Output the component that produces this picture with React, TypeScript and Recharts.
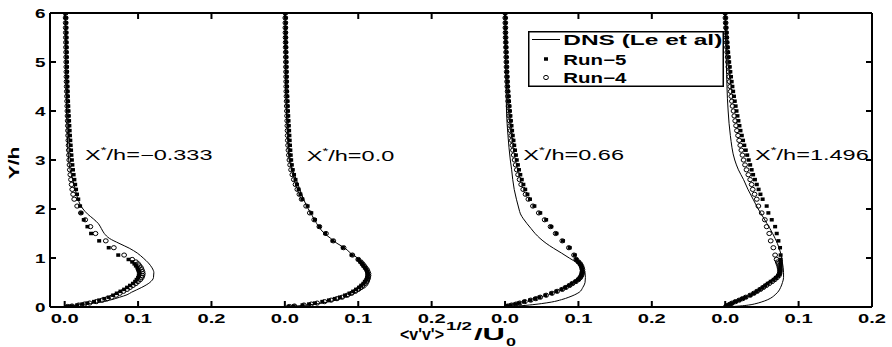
import React from 'react';
import { ScatterChart, Scatter, XAxis, YAxis, Legend } from 'recharts';

const FONT = '"Liberation Sans", Arial, Helvetica, sans-serif';

const panelOffsets = [0, 0.3, 0.6, 0.9];
const panelNames = ['\u22120.333', '0.0', '0.66', '1.496'];
const xTicks = [0, 0.1, 0.2, 0.3, 0.4, 0.5, 0.6, 0.7, 0.8, 0.9, 1.0, 1.1];
const xTickLabels = ['0.0', '0.1', '0.2'];
const yTicks = [0, 1, 2, 3, 4, 5, 6];
const yTickLabels = ['0', '1', '2', '3', '4', '5', '6'];

// y-positions of the simulation points (shared by Run-5 and Run-4)
const yRuns = [
  6.0, 5.9, 5.8, 5.7, 5.6, 5.5, 5.4, 5.3, 5.2, 5.1,
  5.0, 4.9, 4.8, 4.7, 4.6, 4.5, 4.4, 4.3, 4.2, 4.1,
  4.0, 3.9, 3.8, 3.7, 3.6, 3.5, 3.4, 3.3, 3.2, 3.1,
  3.0, 2.9, 2.8, 2.7, 2.6, 2.5, 2.4, 2.3, 2.2,
  2.06, 1.92, 1.78, 1.64, 1.5, 1.35, 1.21, 1.06,
  0.97, 0.92, 0.88, 0.84, 0.8, 0.76, 0.72, 0.68, 0.64, 0.6,
  0.56, 0.52, 0.48, 0.44, 0.4, 0.36, 0.32, 0.28, 0.24, 0.2,
  0.17, 0.14, 0.11, 0.08, 0.06, 0.04, 0.02, 0.01,
];

// y-positions of the DNS curve
const yDns = [
  6, 5, 4, 3.5, 3.0, 2.8, 2.6, 2.4, 2.2, 2.0, 1.9, 1.8, 1.7, 1.6, 1.5, 1.4, 1.3, 1.2,
  1.1, 1.0, 0.9, 0.8, 0.7, 0.6, 0.5, 0.4, 0.3, 0.25, 0.2, 0.15, 0.1, 0.07, 0.04, 0.02, 0,
];

const dnsP1 = [
  0.001, 0.0015, 0.0025, 0.0035, 0.0055, 0.0075, 0.011, 0.0145, 0.018, 0.025, 0.031, 0.039,
  0.046, 0.05, 0.054, 0.061, 0.074, 0.088, 0.099, 0.107, 0.114, 0.119, 0.1215, 0.121, 0.116,
  0.105, 0.091, 0.085, 0.075, 0.064, 0.05, 0.035, 0.016, 0.007, 0,
];
const dnsP2 = [
  0.0005, 0.001, 0.002, 0.0035, 0.006, 0.0105, 0.0155, 0.0205, 0.0255, 0.032, 0.036, 0.0395,
  0.0435, 0.048, 0.054, 0.0625, 0.071, 0.082, 0.0895, 0.099, 0.1055, 0.111, 0.115, 0.116, 0.1145,
  0.1095, 0.097, 0.091, 0.083, 0.072, 0.058, 0.046, 0.03, 0.016, 0,
];
const dnsP3 = [
  0, 0.001, 0.002, 0.004, 0.0072, 0.009, 0.0105, 0.0125, 0.0155, 0.019, 0.021, 0.025,
  0.03, 0.0355, 0.041, 0.0477, 0.056, 0.066, 0.077, 0.0875, 0.098, 0.1055, 0.109, 0.1095, 0.109,
  0.106, 0.101, 0.095, 0.087, 0.077, 0.063, 0.05, 0.033, 0.018, 0,
];
const dnsP4 = [
  0, 0.0015, 0.004, 0.007, 0.013, 0.018, 0.025, 0.031, 0.038, 0.045, 0.049, 0.053,
  0.057, 0.061, 0.0646, 0.068, 0.071, 0.0735, 0.0755, 0.077, 0.078, 0.079, 0.0795, 0.0795, 0.078,
  0.0755, 0.0715, 0.068, 0.064, 0.058, 0.049, 0.042, 0.032, 0.02, 0,
];

const run5P1 = [
  0.0018, 0.0019, 0.002, 0.0021, 0.0022, 0.0023, 0.0024, 0.0025, 0.0026, 0.0027,
  0.0028, 0.003, 0.0032, 0.0034, 0.0036, 0.0038, 0.004, 0.0043, 0.0046, 0.0049,
  0.0052, 0.0056, 0.006, 0.0064, 0.0068, 0.0072, 0.0077, 0.0082, 0.0087, 0.0092,
  0.0098, 0.0105, 0.0113, 0.0122, 0.0132, 0.0143, 0.0155, 0.0168, 0.0185,
  0.021, 0.0225, 0.026, 0.031, 0.036, 0.047, 0.06, 0.073,
  0.087, 0.092, 0.095, 0.097, 0.099, 0.1, 0.101, 0.1015, 0.101, 0.1,
  0.098, 0.096, 0.093, 0.089, 0.085, 0.081, 0.076, 0.071, 0.066, 0.06,
  0.054, 0.047, 0.04, 0.031, 0.024, 0.017, 0.009, 0.004,
];
const run4P1 = [
  0.0012, 0.0013, 0.0013, 0.0014, 0.0015, 0.0016, 0.0017, 0.0018, 0.0019, 0.002,
  0.0021, 0.0022, 0.0023, 0.0024, 0.0025, 0.0027, 0.0029, 0.0031, 0.0033, 0.0035,
  0.0037, 0.0039, 0.0041, 0.0043, 0.0045, 0.0047, 0.005, 0.0053, 0.0056, 0.0059,
  0.0062, 0.0066, 0.007, 0.0077, 0.0086, 0.0094, 0.0103, 0.0115, 0.013,
  0.017, 0.022, 0.028, 0.035, 0.042, 0.056, 0.067, 0.081,
  0.092, 0.097, 0.1, 0.102, 0.104, 0.105, 0.106, 0.1065, 0.106, 0.105,
  0.103, 0.1, 0.097, 0.093, 0.089, 0.085, 0.08, 0.075, 0.07, 0.064,
  0.058, 0.051, 0.043, 0.034, 0.027, 0.019, 0.01, 0.004,
];
const run5P2 = [
  0.001, 0.001, 0.0011, 0.0012, 0.0013, 0.0014, 0.0015, 0.0016, 0.0017, 0.0018,
  0.0019, 0.002, 0.0022, 0.0024, 0.0026, 0.0028, 0.003, 0.0033, 0.0036, 0.0039,
  0.0042, 0.0046, 0.005, 0.0054, 0.0058, 0.0062, 0.0066, 0.007, 0.0075, 0.008,
  0.0086, 0.0095, 0.0108, 0.0125, 0.0145, 0.0165, 0.0188, 0.0212, 0.0238,
  0.031, 0.036, 0.041, 0.047, 0.055, 0.065, 0.079, 0.091,
  0.1, 0.103, 0.105, 0.107, 0.109, 0.111, 0.112, 0.1125, 0.1125, 0.112,
  0.111, 0.109, 0.107, 0.104, 0.101, 0.097, 0.093, 0.088, 0.082, 0.075,
  0.068, 0.06, 0.051, 0.041, 0.033, 0.024, 0.012, 0.005,
];
const run4P2 = [
  0.0006, 0.0006, 0.0007, 0.0007, 0.0008, 0.0009, 0.001, 0.0011, 0.0012, 0.0013,
  0.0014, 0.0015, 0.0016, 0.0017, 0.0018, 0.0019, 0.002, 0.0022, 0.0024, 0.0026,
  0.0028, 0.003, 0.0032, 0.0034, 0.0036, 0.0038, 0.004, 0.0044, 0.0049, 0.0055,
  0.0062, 0.0072, 0.0085, 0.0102, 0.0122, 0.0145, 0.017, 0.0198, 0.0228,
  0.029, 0.034, 0.04, 0.047, 0.056, 0.066, 0.08, 0.092,
  0.1, 0.1035, 0.106, 0.108, 0.11, 0.112, 0.113, 0.114, 0.114, 0.1135,
  0.1125, 0.111, 0.109, 0.106, 0.103, 0.1, 0.096, 0.091, 0.085, 0.078,
  0.071, 0.063, 0.054, 0.044, 0.036, 0.026, 0.013, 0.006,
];
const run5P3 = [
  0.0003, 0.0004, 0.0005, 0.0006, 0.0008, 0.001, 0.0012, 0.0014, 0.0016, 0.0018,
  0.002, 0.0023, 0.0026, 0.003, 0.0034, 0.0038, 0.0043, 0.0048, 0.0054, 0.006,
  0.0066, 0.0073, 0.008, 0.0088, 0.0096, 0.0105, 0.0115, 0.0125, 0.0136, 0.0148,
  0.016, 0.0175, 0.019, 0.0208, 0.0228, 0.025, 0.0275, 0.0305, 0.034,
  0.04, 0.048, 0.056, 0.063, 0.07, 0.079, 0.088, 0.095,
  0.097, 0.1, 0.102, 0.1035, 0.1045, 0.105, 0.105, 0.1045, 0.1035, 0.102,
  0.0995, 0.096, 0.091, 0.087, 0.082, 0.077, 0.07, 0.063, 0.055, 0.047,
  0.041, 0.034, 0.026, 0.019, 0.014, 0.008, 0.004, 0.002,
];
const run4P3 = [
  0.0002, 0.0003, 0.0004, 0.0005, 0.0006, 0.0008, 0.001, 0.0012, 0.0014, 0.0016,
  0.0018, 0.002, 0.0022, 0.0025, 0.0028, 0.0031, 0.0035, 0.0039, 0.0043, 0.0048,
  0.0053, 0.0058, 0.0064, 0.007, 0.0077, 0.0084, 0.0092, 0.01, 0.0108, 0.0118,
  0.013, 0.0145, 0.016, 0.0178, 0.0198, 0.022, 0.0248, 0.028, 0.0318,
  0.038, 0.046, 0.054, 0.062, 0.069, 0.078, 0.087, 0.094,
  0.097, 0.1, 0.1025, 0.104, 0.105, 0.1055, 0.1055, 0.105, 0.104, 0.1025,
  0.1, 0.0965, 0.092, 0.088, 0.083, 0.078, 0.071, 0.064, 0.056, 0.048,
  0.042, 0.035, 0.027, 0.02, 0.015, 0.009, 0.004, 0.002,
];
const run5P4 = [
  0.0, 0.0004, 0.0008, 0.0012, 0.0017, 0.0022, 0.0028, 0.0034, 0.004, 0.0047,
  0.0054, 0.0062, 0.007, 0.0079, 0.0088, 0.0098, 0.0108, 0.0119, 0.013, 0.0142,
  0.0154, 0.0167, 0.018, 0.0194, 0.0208, 0.0226, 0.0243, 0.026, 0.028, 0.03,
  0.032, 0.034, 0.036, 0.038, 0.0405, 0.043, 0.0455, 0.048, 0.051,
  0.0565, 0.0588, 0.0634, 0.068, 0.0702, 0.0725, 0.0747, 0.0755,
  0.0755, 0.0755, 0.0755, 0.0755, 0.0752, 0.075, 0.0745, 0.074, 0.072, 0.069,
  0.066, 0.062, 0.058, 0.0545, 0.051, 0.047, 0.043, 0.039, 0.034, 0.028,
  0.024, 0.019, 0.014, 0.0095, 0.007, 0.0045, 0.002, 0.001,
];
const run4P4 = [
  0.0, 0.0003, 0.0006, 0.0009, 0.0012, 0.0016, 0.002, 0.0024, 0.0028, 0.0033,
  0.0038, 0.0043, 0.0049, 0.0055, 0.0061, 0.0068, 0.0075, 0.0083, 0.0091, 0.01,
  0.0113, 0.0124, 0.0136, 0.0148, 0.016, 0.0175, 0.019, 0.0205, 0.022, 0.0235,
  0.025, 0.027, 0.029, 0.0315, 0.034, 0.036, 0.0375, 0.04, 0.043,
  0.0452, 0.0497, 0.054, 0.0565, 0.06, 0.062, 0.0656, 0.068,
  0.07, 0.0715, 0.0725, 0.0735, 0.074, 0.0745, 0.0745, 0.074, 0.073, 0.0705,
  0.0675, 0.064, 0.06, 0.056, 0.052, 0.048, 0.0435, 0.039, 0.034, 0.028,
  0.0235, 0.019, 0.014, 0.0095, 0.007, 0.0045, 0.002, 0.001,
];

const dnsSets = [dnsP1, dnsP2, dnsP3, dnsP4];
const run5Sets = [run5P1, run5P2, run5P3, run5P4];
const run4Sets = [run4P1, run4P2, run4P3, run4P4];

const pts = (xs: number[], ys: number[], off: number) =>
  xs.map((v, i) => ({ x: Math.round((off + v) * 100000) / 100000, y: ys[i] }));

const AX = { stroke: '#000', strokeWidth: 2 };

const Square = (p: any) => (
  <rect x={p.cx - 2} y={p.cy - 1.75} width={4} height={3.5} fill="#000" />
);
const Ring = (p: any) => (
  <ellipse cx={p.cx} cy={p.cy} rx={2.4} ry={2.1} fill="none" stroke="#000" strokeWidth={1} />
);
const NoShape = () => <g />;

const BottomTick = (p: any) => {
  const { x, y, payload } = p;
  const lab = xTickLabels[Math.round(payload.value * 10) % 3];
  return (
    <g>
      <line x1={x} x2={x} y1={y} y2={y - 6} stroke="#000" strokeWidth={2} />
      <text x={x} y={y + 15.5} textAnchor="middle" fontFamily={FONT} fontWeight="bold" fontSize={13}
        textLength={28} lengthAdjust="spacingAndGlyphs" fill="#000">{lab}</text>
    </g>
  );
};
const TopTick = (p: any) => {
  const { x, y } = p;
  return <line x1={x} x2={x} y1={y} y2={y + 6} stroke="#000" strokeWidth={2} />;
};
const LeftTick = (p: any) => {
  const { x, y, payload } = p;
  const lab = yTickLabels[Math.round(payload.value)];
  return (
    <g>
      <line x1={x} x2={x + 6} y1={y} y2={y} stroke="#000" strokeWidth={2} />
      <text x={x - 4.5} y={y + 5} textAnchor="end" fontFamily={FONT} fontWeight="bold" fontSize={13}
        textLength={10.5} lengthAdjust="spacingAndGlyphs" fill="#000">{lab}</text>
    </g>
  );
};
const RightTick = (p: any) => {
  const { x, y } = p;
  return <line x1={x} x2={x - 6} y1={y} y2={y} stroke="#000" strokeWidth={2} />;
};

const legendItems = ['DNS (Le et al)', 'Run\u22125', 'Run\u22124'];

const LegendBox = () => (
  <svg width={196} height={56} style={{ display: 'block' }}>
    <rect x={0.75} y={0.75} width={194.5} height={54.5} fill="#fff" stroke="#000" strokeWidth={1.5} />
    <line x1={4} x2={32} y1={8.5} y2={8.5} stroke="#000" strokeWidth={1} />
    <rect x={16} y={26.25} width={4} height={3.5} fill="#000" />
    <ellipse cx={18} cy={46.5} rx={2.4} ry={2.1} fill="none" stroke="#000" strokeWidth={1} />
    <text x={35.3} y={14} fontFamily={FONT} fontWeight="bold" fontSize={14} textLength={159}
      lengthAdjust="spacingAndGlyphs" fill="#000">{legendItems[0]}</text>
    <text x={35.3} y={33.5} fontFamily={FONT} fontWeight="bold" fontSize={14} textLength={63}
      lengthAdjust="spacingAndGlyphs" fill="#000">{legendItems[1]}</text>
    <text x={35.3} y={52} fontFamily={FONT} fontWeight="bold" fontSize={14} textLength={63}
      lengthAdjust="spacingAndGlyphs" fill="#000">{legendItems[2]}</text>
  </svg>
);

const annotPos = [
  { x: 85, y: 160 },
  { x: 306.7, y: 160.5 },
  { x: 523.3, y: 160 },
  { x: 755, y: 160 },
];

export default function App() {
  const series: React.ReactNode[] = [];
  panelOffsets.forEach((off, p) => {
    series.push(
      <Scatter key={`dns${p}`} name="DNS (Le et al)" data={pts(dnsSets[p], yDns, off)} xAxisId="b" yAxisId="l"
        line={{ stroke: '#000', strokeWidth: 1 }} lineJointType="monotoneY" shape={NoShape}
        isAnimationActive={false} />
    );
    series.push(
      <Scatter key={`r5${p}`} name="Run-5" data={pts(run5Sets[p], yRuns, off)} xAxisId="b" yAxisId="l"
        shape={Square} isAnimationActive={false} />
    );
    series.push(
      <Scatter key={`r4${p}`} name="Run-4" data={pts(run4Sets[p], yRuns, off)} xAxisId="b" yAxisId="l"
        shape={Ring} isAnimationActive={false} />
    );
  });

  return (
    <div style={{ position: 'absolute', left: 0, top: 0, width: 892, height: 347, background: '#fff' }}>
      <ScatterChart width={892} height={347} margin={{ top: 0, right: 0, bottom: 0, left: 0 }}>
        <XAxis xAxisId="b" type="number" dataKey="x" domain={[-0.02, 1.1]} ticks={xTicks} interval={0}
          tick={BottomTick} tickLine={false} tickSize={0} tickMargin={0} axisLine={AX} height={40}
          allowDataOverflow />
        <XAxis xAxisId="t" orientation="top" type="number" dataKey="x" domain={[-0.02, 1.1]} ticks={xTicks}
          interval={0} tick={TopTick} tickLine={false} tickSize={0} tickMargin={0} axisLine={AX} height={13}
          allowDataOverflow />
        <YAxis yAxisId="l" type="number" dataKey="y" domain={[0, 6]} ticks={yTicks} interval={0}
          tick={LeftTick} tickLine={false} tickSize={0} tickMargin={0} axisLine={AX} width={50}
          allowDataOverflow />
        <YAxis yAxisId="r" orientation="right" type="number" dataKey="y" domain={[0, 6]} ticks={yTicks}
          interval={0} tick={RightTick} tickLine={false} tickSize={0} tickMargin={0} axisLine={AX} width={20}
          allowDataOverflow />
        {series}
        <Legend layout="vertical" verticalAlign="middle" align="center" content={LegendBox}
          wrapperStyle={{ position: 'absolute', left: 528, top: 31, width: 196, height: 56, margin: 0, padding: 0 }} />
      </ScatterChart>
      <svg width={892} height={347} style={{ position: 'absolute', left: 0, top: 0, pointerEvents: 'none' }}
        fontFamily={FONT} fill="#000">
        {annotPos.map((a, i) => (
          <g key={i} transform={`translate(${a.x},${a.y}) scale(1.68,1)`}>
            <text x={0} y={0} fontSize={14}>
              X<tspan fontSize={9} dy={-7}>*</tspan><tspan dy={7}>{`/h=${panelNames[i]}`}</tspan>
            </text>
          </g>
        ))}
        <g transform="translate(18.5,163) rotate(-90) scale(1.5,1)">
          <text x={0} y={0} textAnchor="middle" fontSize={14} fontWeight="bold">Y/h</text>
        </g>
        <g fontWeight="bold">
          <text x={400} y={340} fontSize={17} textLength={44} lengthAdjust="spacingAndGlyphs">{"<v'v'>"}</text>
          <text x={446} y={330} fontSize={11.5} textLength={26} lengthAdjust="spacingAndGlyphs">1/2</text>
          <text x={474} y={340} fontSize={16} textLength={31} lengthAdjust="spacingAndGlyphs">/U</text>
          <text x={506} y={345.5} fontSize={10.5} textLength={10} lengthAdjust="spacingAndGlyphs">0</text>
        </g>
      </svg>
    </div>
  );
}
